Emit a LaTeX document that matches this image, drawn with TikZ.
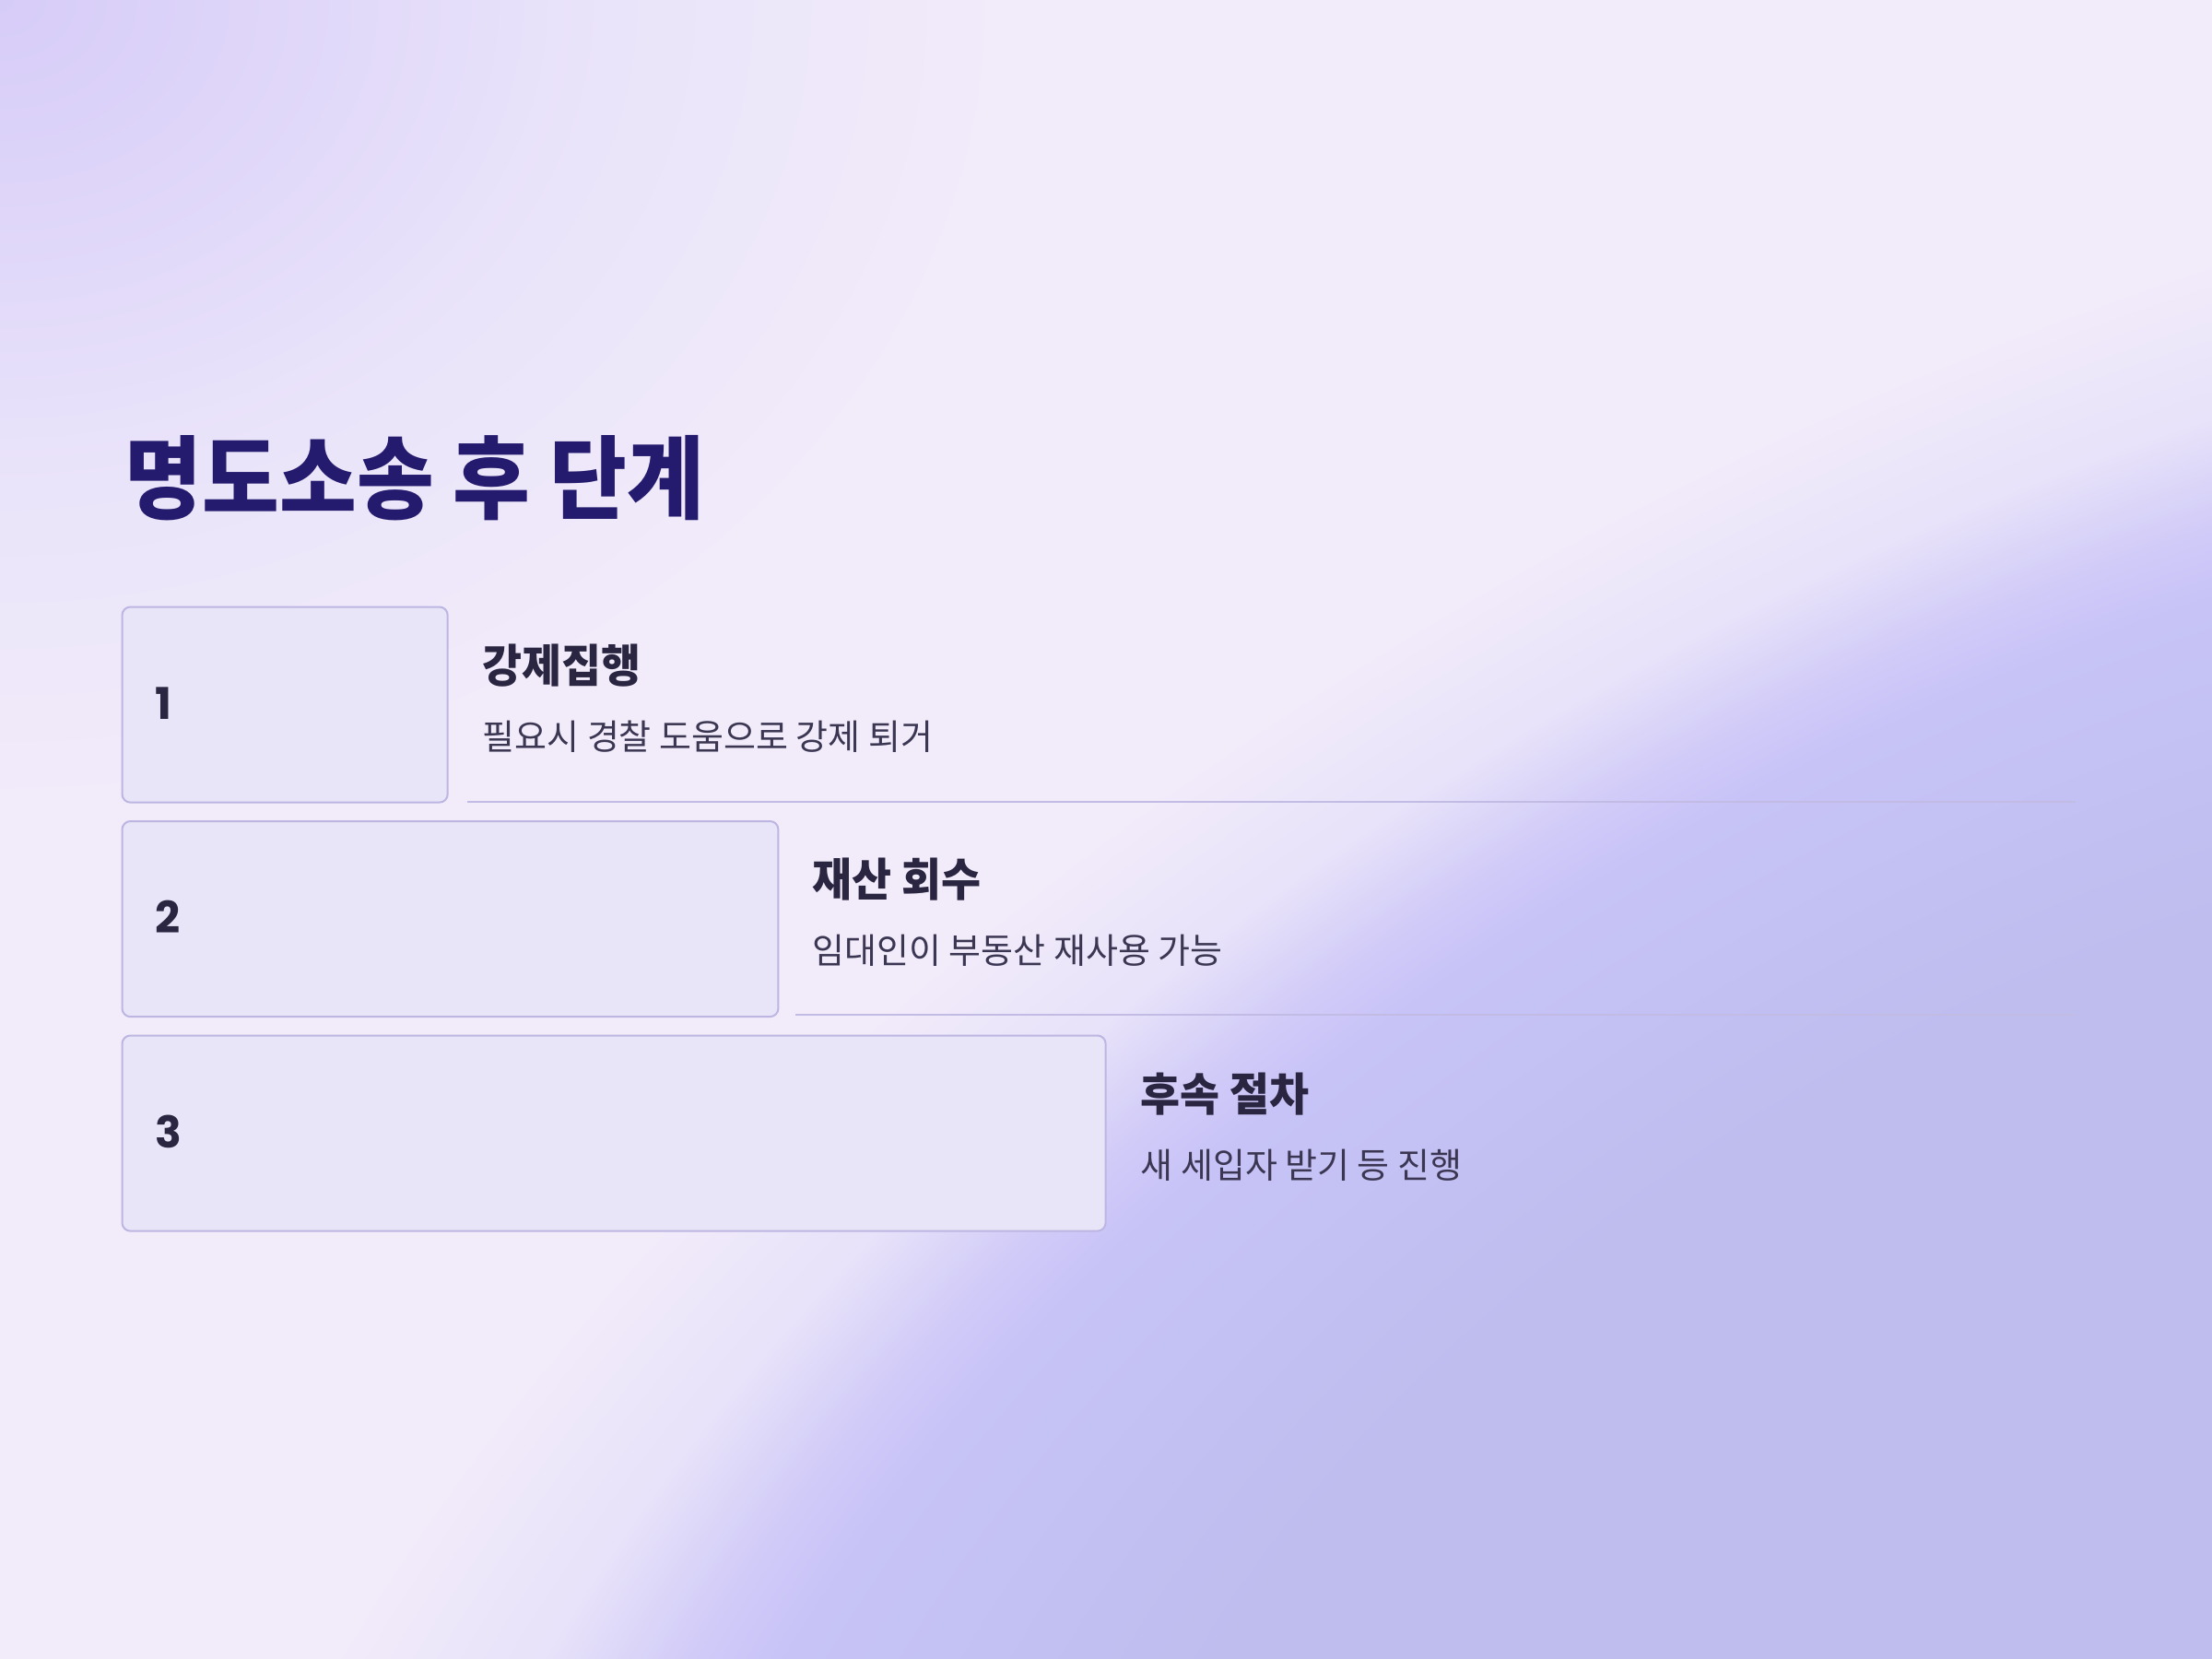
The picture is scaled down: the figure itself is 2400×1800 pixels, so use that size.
\documentclass[tikz,border=0pt]{standalone}
\usepackage{fontspec}
\newfontfamily\krT{Noto Sans CJK KR}[FakeStretch=0.925]
\newfontfamily\krH{Noto Sans CJK KR}[FakeStretch=0.95]
\newfontfamily\krD{Noto Sans CJK KR}
\newfontfamily\pop{Poppins}
\definecolor{bgL}{HTML}{F1EBFA}
\definecolor{pdeep}{HTML}{BEBDEE}
\definecolor{pmain}{HTML}{C7C3F7}
\definecolor{pmidA}{HTML}{D1CBF8}
\definecolor{pmid}{HTML}{DBD6F8}
\definecolor{pmidB}{HTML}{E8E2FA}
\definecolor{tlA}{HTML}{D6CCF8}
\definecolor{tlB}{HTML}{DED5F9}
\definecolor{tlC}{HTML}{EAE4FA}
\definecolor{boxfill}{HTML}{E8E5F8}
\definecolor{boxline}{HTML}{BDB6E2}
\definecolor{sepC}{HTML}{C2BBE4}
\definecolor{titleC}{HTML}{241B6E}
\definecolor{headC}{HTML}{2A2540}
\definecolor{descC}{HTML}{3B3652}
\pgfdeclareradialshading{purpleblob}{\pgfpoint{0bp}{0bp}}{%
  color(0bp)=(pdeep); color(12bp)=(pdeep); color(17.4bp)=(pmain); color(18.6bp)=(pmidA); color(19.4bp)=(pmid); color(20.4bp)=(pmidB); color(23bp)=(bgL); color(50bp)=(bgL)}
\pgfdeclareradialshading{tlglow}{\pgfpoint{0bp}{0bp}}{%
  color(0bp)=(tlA); color(6bp)=(tlB); color(15bp)=(tlC); color(25bp)=(bgL); color(50bp)=(bgL)}
\begin{document}
\begin{tikzpicture}[x=0.01cm,y=-0.01cm,
  stepbox/.style={draw=boxline, fill=boxfill, line width=0.02cm, rounded corners=0.09cm,
    minimum height=2.12cm, anchor=north west, inner sep=0pt},
  numtext/.style={anchor=base west, inner sep=0pt, text=headC, font=\pop\bfseries\fontsize{13.5pt}{16pt}\selectfont},
  headtext/.style={anchor=base west, inner sep=0pt, text=headC, font=\krH\bfseries\fontsize{14pt}{17pt}\selectfont},
  desctext/.style={anchor=base west, inner sep=0pt, text=descC, font=\krD\fontsize{10.8pt}{13pt}\selectfont},
  titletext/.style={anchor=base west, inner sep=0pt, text=titleC, font=\krT\bfseries\fontsize{28pt}{32pt}\selectfont},
  sepline/.style={draw=sepC, line width=0.02cm}]
\useasboundingbox (0,0) rectangle (2400,1800);
\fill[bgL] (0,0) rectangle (2400,1800);
\begin{scope}
  \clip (0,0) rectangle (2400,1800);
  \begin{scope}[transform canvas={shift={(2400,1800)}, rotate=27.8, xscale=1.754}]
    \shade[shading=purpleblob] (-1525,-1525) rectangle (1525,1525);
  \end{scope}
  \begin{scope}[transform canvas={yscale=0.8}]
    \shade[shading=tlglow] (-1100,-1100) rectangle (1100,1100);
  \end{scope}
\end{scope}

\node[titletext] (title) at (135,555) {명도소송 후 단계};

\node[stepbox, minimum width=3.53cm] (b1) at (131.5,657.5) {};
\node[stepbox, minimum width=7.115cm] (b2) at (131.5,890) {};
\node[stepbox, minimum width=10.665cm] (b3) at (131.5,1122.5) {};

\node[numtext] (n1) at (168,780) {1};
\node[numtext] (n2) at (168,1012.5) {2};
\node[numtext] (n3) at (168,1245) {3};

\node[headtext] (h1) at (523,740) {강제집행};
\node[desctext] (d1) at (523,813) {필요시 경찰 도움으로 강제 퇴거};
\node[headtext] (h2) at (881,972.5) {재산 회수};
\node[desctext] (d2) at (881,1045.5) {임대인이 부동산 재사용 가능};
\node[headtext] (h3) at (1237,1205) {후속 절차};
\node[desctext] (d3) at (1237,1278) {새 세입자 받기 등 진행};

\coordinate (s1a) at (507,869.5);
\coordinate (s1b) at (2252,869.5);
\coordinate (s2a) at (863,1101);
\coordinate (s2b) at (2252,1101);
\draw[sepline] (s1a) -- (s1b);
\draw[sepline] (s2a) -- (s2b);
\end{tikzpicture}
\end{document}
